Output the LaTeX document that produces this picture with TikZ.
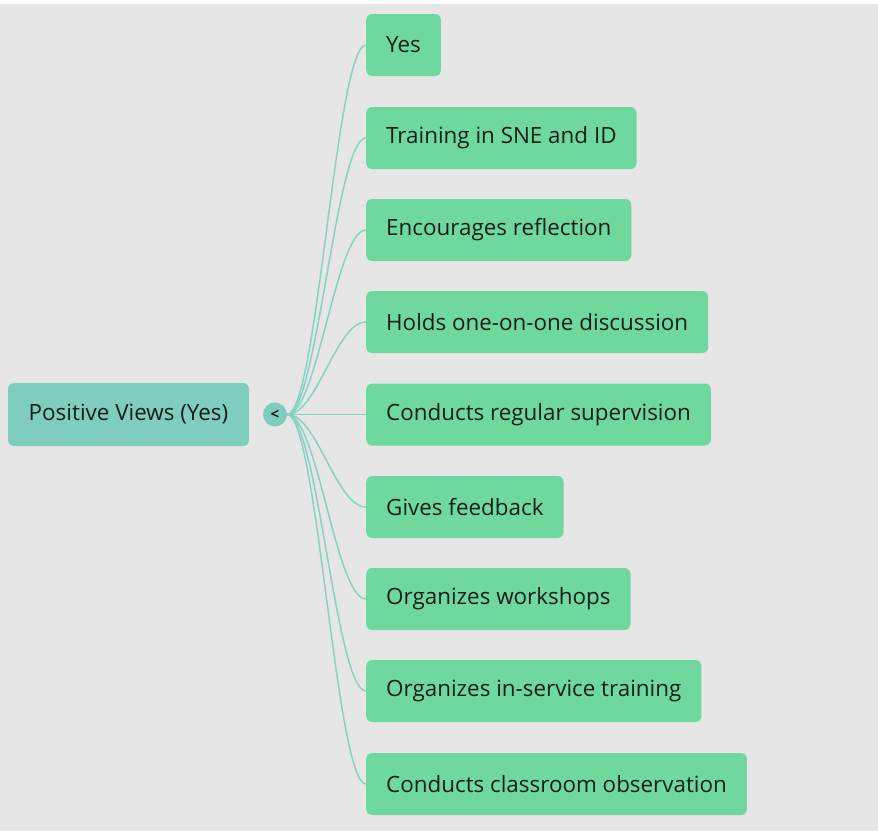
\documentclass[tikz,border=0pt]{standalone}
\usepackage{fontspec}
\setmainfont{Open Sans}
\usepackage{tikz}
\usepackage{xcolor}

\definecolor{bggray}{HTML}{E6E6E6}
\definecolor{rootteal}{HTML}{7FCDBE}
\definecolor{leafgreen}{HTML}{6FD89E}
\definecolor{linkteal}{HTML}{86D3C2}
\definecolor{inktext}{HTML}{0F1F17}

\tikzset{
    rootbox/.style={fill=rootteal,rounded corners=6pt,minimum width=241pt,minimum height=63pt,
        text=inktext,font=\fontsize{22.4}{26}\selectfont},
    leafbox/.style={fill=leafgreen,rounded corners=6pt,minimum height=62pt,inner xsep=20pt,
        anchor=west,text=inktext,font=\fontsize{22.4}{26}\selectfont},
    togglebtn/.style={circle,fill=rootteal,minimum size=24pt,inner sep=0pt,text=inktext,
        font=\fontsize{15}{17}\selectfont\bfseries},
    link/.style={linkteal,line width=1.5pt}
}

\begin{document}
\begin{tikzpicture}[x=1pt,y=-1pt]
        % background
        \useasboundingbox (0,0) rectangle (878,831);
        \fill[white] (0,0) rectangle (878,831);
        \fill[bggray] (0,4) rectangle (878,831);

        % root and toggle
        \node[rootbox] (root) at (128.5,414.5) {Positive Views (Yes)};
        \node[togglebtn] (tog) at (275,414.5) {<};

        % leaves
        \node[leafbox] (yes) at (366,45) {Yes};
        \node[leafbox] (train) at (366,138) {Training in SNE and ID};
        \node[leafbox] (refl) at (366,230) {Encourages reflection};
        \node[leafbox] (disc) at (366,322) {Holds one-on-one discussion};
        \node[leafbox] (superv) at (366,414.5) {Conducts regular supervision};
        \node[leafbox] (feed) at (366,507) {Gives feedback};
        \node[leafbox] (work) at (366,599) {Organizes workshops};
        \node[leafbox] (inserv) at (366,691) {Organizes in-service training};
        \node[leafbox] (observ) at (366,784) {Conducts classroom observation};

        % links
        \foreach \leaf in {yes,train,refl,disc,superv,feed,work,inserv,observ}
            \draw[link] (tog.east) .. controls +(30,0) and +(-30,0) .. (\leaf.west);
    \end{tikzpicture}
\end{document}
